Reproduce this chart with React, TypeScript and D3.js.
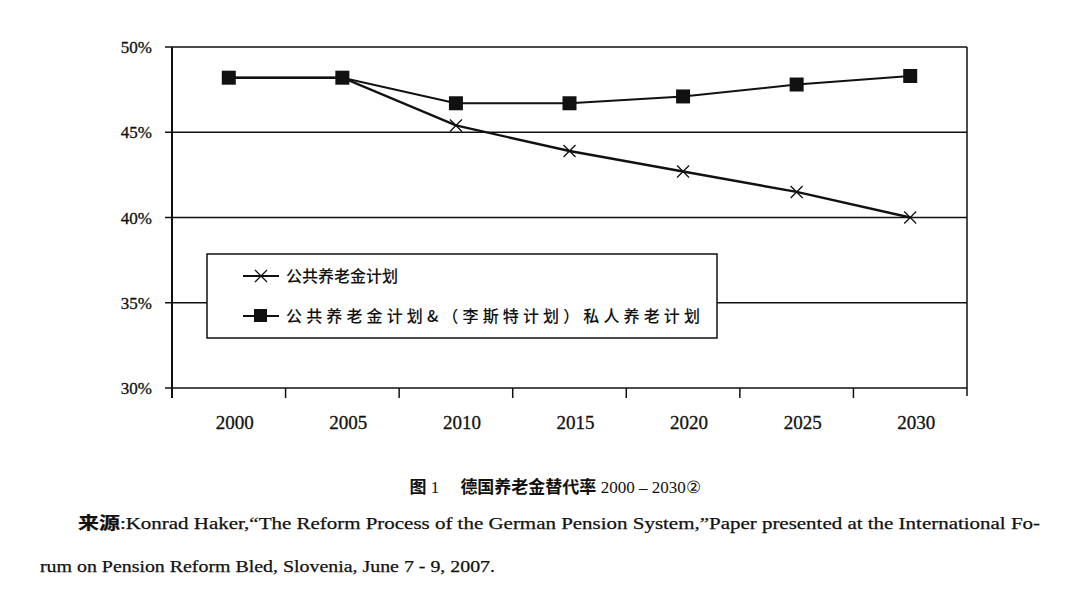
import React from "react";
import * as d3 from "d3";

const years = ["2000", "2005", "2010", "2015", "2020", "2025", "2030"];
const publicPlan = [48.2, 48.2, 45.4, 43.9, 42.7, 41.5, 40.0];
const publicPlusRiester = [48.2, 48.2, 46.7, 46.7, 47.1, 47.8, 48.3];
const yTicks = [30, 35, 40, 45, 50];
const legendLabels = ["公共养老金计划", "公共养老金计划&（李斯特计划）私人养老计划"];

const W = 1080;
const H = 601;
const left = 172;
const right = 967;
const top = 47;
const bottom = 388;

const serif = "'Liberation Serif', 'DejaVu Serif', serif";
const cjk = "'Noto Sans CJK SC', sans-serif";

const App: React.FC = () => {
  const x = d3.scaleBand<string>().domain(years).range([left, right]);
  const y = d3.scaleLinear().domain([30, 50]).range([bottom, top]);
  const cx = (d: string) => (x(d) as number) + x.bandwidth() / 2;

  const line = d3
    .line<number>()
    .x((_, i) => cx(years[i]))
    .y((d) => y(d));

  const boundaries = years.map((d) => x(d) as number).concat([right]);

  return (
    <svg width={W} height={H} style={{ position: "absolute", left: 0, top: 0, background: "#fff" }}>
      {/* grid lines + y labels */}
      {yTicks.map((t) => (
        <g key={t}>
          <line x1={left - 7} x2={right} y1={y(t)} y2={y(t)} stroke="#111" strokeWidth={1.5} />
          <text
            x={152}
            y={y(t) + 6}
            textAnchor="end"
            fontFamily={serif}
            fontSize={17}
            fill="#111"
            stroke="#111"
            strokeWidth={0.3}
          >
            {t}%
          </text>
        </g>
      ))}
      {/* axes */}
      <line x1={left} x2={left} y1={top} y2={bottom + 10} stroke="#111" strokeWidth={2} />
      <line x1={right} x2={right} y1={top} y2={bottom + 8} stroke="#111" strokeWidth={1.5} />
      {boundaries.slice(1, -1).map((b, i) => (
        <line key={i} x1={b} x2={b} y1={bottom} y2={bottom + 10} stroke="#111" strokeWidth={1.5} />
      ))}
      {years.map((d) => (
        <text
          key={d}
          x={cx(d) + 6}
          y={429}
          textAnchor="middle"
          fontFamily={serif}
          fontSize={19}
          fill="#111"
          stroke="#111"
          strokeWidth={0.3}
        >
          {d}
        </text>
      ))}

      {/* series */}
      <path d={line(publicPlusRiester) || ""} fill="none" stroke="#111" strokeWidth={2} />
      <path d={line(publicPlan) || ""} fill="none" stroke="#111" strokeWidth={2.4} />
      {publicPlan.map((v, i) => (
        <path
          key={"c" + i}
          d={`M${cx(years[i]) - 6},${y(v) - 6}L${cx(years[i]) + 6},${y(v) + 6}M${cx(years[i]) - 6},${y(v) + 6}L${cx(years[i]) + 6},${y(v) - 6}`}
          stroke="#111"
          strokeWidth={1.3}
        />
      ))}
      {publicPlusRiester.map((v, i) => (
        <rect key={"s" + i} x={cx(years[i]) - 7} y={y(v) - 7} width={14} height={14} fill="#111" />
      ))}

      {/* legend */}
      <rect x={207} y={254} width={510} height={84} fill="#fff" stroke="#111" strokeWidth={1.5} />
      <g>
        <line x1={243} x2={279} y1={276} y2={276} stroke="#111" strokeWidth={2} />
        <path d="M255,270L267,282M255,282L267,270" stroke="#111" strokeWidth={1.3} />
        <text x={286} y={282} fontFamily={cjk} fontSize={16} fontWeight={500} fill="#111">
          {legendLabels[0]}
        </text>
        <line x1={243} x2={279} y1={316} y2={316} stroke="#111" strokeWidth={2} />
        <rect x={254} y={309} width={13} height={13} fill="#111" />
        <text
          x={286}
          y={322}
          fontFamily={cjk}
          fontSize={16}
          fontWeight={500}
          fill="#111"
          textLength={414}
          lengthAdjust="spacing"
        >
          {legendLabels[1]}
        </text>
      </g>

      {/* caption */}
      <text x={555} y={493} textAnchor="middle" fontSize={17} fill="#111">
        <tspan fontFamily={cjk} fontWeight={700}>图</tspan>
        <tspan fontFamily={serif}> 1　 </tspan>
        <tspan fontFamily={cjk} fontWeight={700}>德国养老金替代率</tspan>
        <tspan fontFamily={serif}> 2000 – 2030②</tspan>
      </text>
      <text
        x={78}
        y={529}
        fontSize={17}
        fill="#111"
        stroke="#111"
        strokeWidth={0.25}
        textLength={962}
        lengthAdjust="spacingAndGlyphs"
      >
        <tspan fontFamily={cjk} fontWeight={700}>来源</tspan>
        <tspan fontFamily={serif}>
          :Konrad Haker,“The Reform Process of the German Pension System,”Paper presented at the International Fo-
        </tspan>
      </text>
      <text
        x={40}
        y={572}
        fontSize={17}
        fill="#111"
        stroke="#111"
        strokeWidth={0.25}
        fontFamily={serif}
        textLength={455}
        lengthAdjust="spacingAndGlyphs"
      >
        rum on Pension Reform Bled, Slovenia, June 7 - 9, 2007.
      </text>
    </svg>
  );
};

export default App;
